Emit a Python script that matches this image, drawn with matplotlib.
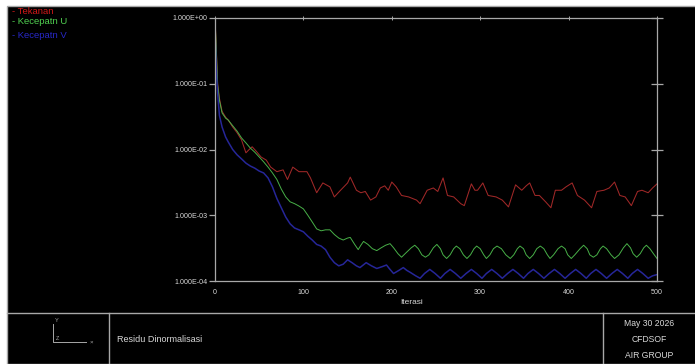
import numpy as np
import matplotlib
matplotlib.use("Agg")
import matplotlib.pyplot as plt
from matplotlib.patches import Rectangle
from matplotlib.lines import Line2D
from matplotlib.ticker import FixedLocator, FixedFormatter

plt.rcParams["font.family"] = ["Liberation Sans", "DejaVu Sans"]

# --- residual histories ---
it_tekanan = [0, 1, 3, 5, 8, 12, 15, 20, 25, 30, 35, 38, 42, 47, 52, 58, 63, 70,
              77, 82, 88, 95, 100, 104, 108, 115, 122, 130, 135, 142, 150, 153,
              160, 165, 170, 176, 182, 187, 192, 196, 200, 205, 211, 219, 228,
              232, 240, 247, 252, 258, 263, 270, 278, 282, 290, 294, 297, 303,
              309, 318, 325, 332, 340, 347, 352, 356, 362, 367, 374, 380, 385,
              392, 397, 404, 410, 418, 426, 432, 440, 446, 452, 458, 464, 471,
              478, 483, 490, 495, 500]
res_tekanan = [1.0, 0.5, 0.1, 0.06, 0.038, 0.031, 0.028, 0.022, 0.018, 0.014,
               0.0089, 0.0098, 0.011, 0.0093, 0.0077, 0.0069, 0.0054, 0.0046,
               0.0049, 0.0035, 0.0054, 0.0046, 0.0046, 0.0046, 0.0037, 0.0022,
               0.0031, 0.0027, 0.0019, 0.0024, 0.0031, 0.0038, 0.0024, 0.0022,
               0.0023, 0.0017, 0.0019, 0.0026, 0.0028, 0.0024, 0.0032, 0.0027,
               0.0020, 0.0019, 0.0017, 0.0015, 0.0024, 0.0026, 0.0023, 0.0037,
               0.0020, 0.0019, 0.0015, 0.0014, 0.0030, 0.0024, 0.0024, 0.0031,
               0.0020, 0.0019, 0.0017, 0.00134, 0.0029, 0.0024, 0.0028, 0.0031,
               0.0020, 0.0020, 0.0016, 0.0013, 0.0024, 0.0024, 0.0027, 0.0031,
               0.0020, 0.0017, 0.0013, 0.0023, 0.0024, 0.0026, 0.0032, 0.0020,
               0.0019, 0.0014, 0.0023, 0.0024, 0.0022, 0.0026, 0.0030]

it_u = [0, 1, 3, 5, 8, 12, 15, 20, 25, 30, 35, 40, 45, 50, 55, 60, 65, 70, 75,
        80, 85, 90, 95, 100, 105, 110, 115, 120, 125, 130, 135, 140, 145, 150,
        153, 158, 162, 165, 168, 173, 178, 183, 188, 193, 198, 202, 207, 211,
        215, 222, 226, 230, 234, 238, 242, 247, 251, 255, 258, 262, 266, 270,
        273, 277, 281, 285, 289, 293, 296, 300, 304, 307, 311, 315, 319, 324,
        329, 334, 338, 342, 345, 349, 352, 356, 360, 364, 368, 372, 376, 379,
        383, 388, 392, 396, 399, 403, 407, 413, 417, 421, 424, 428, 432, 436,
        439, 443, 448, 452, 457, 462, 466, 470, 473, 477, 481, 485, 488, 492,
        496, 500]
res_u = [1.0, 0.47, 0.095, 0.056, 0.036, 0.030, 0.028, 0.023, 0.019, 0.015,
         0.0126, 0.0105, 0.0091, 0.0077, 0.0065, 0.0054, 0.0044, 0.0035, 0.0025,
         0.0019, 0.0016, 0.0015, 0.00138, 0.00125, 0.0010, 7.9e-4, 6.2e-4,
         5.8e-4, 6.0e-4, 6.0e-4, 5.1e-4, 4.5e-4, 4.2e-4, 4.5e-4,
         4.6e-4, 3.6e-4, 3.0e-4, 3.5e-4, 4.0e-4, 3.6e-4, 3.1e-4, 2.9e-4, 3.2e-4,
         3.5e-4, 3.7e-4, 3.2e-4, 2.6e-4, 2.3e-4, 2.6e-4, 3.2e-4, 3.5e-4, 3.1e-4,
         2.5e-4, 2.3e-4, 2.5e-4, 3.2e-4, 3.6e-4, 3.1e-4, 2.5e-4, 2.2e-4, 2.5e-4,
         3.1e-4, 3.4e-4, 3.1e-4, 2.5e-4, 2.2e-4, 2.5e-4, 3.1e-4, 3.4e-4, 3.1e-4,
         2.5e-4, 2.2e-4, 2.5e-4, 3.1e-4, 3.4e-4, 3.1e-4, 2.5e-4, 2.2e-4, 2.5e-4,
         3.1e-4, 3.4e-4, 3.1e-4, 2.5e-4, 2.2e-4, 2.5e-4, 3.1e-4, 3.4e-4, 3.1e-4,
         2.5e-4, 2.2e-4, 2.5e-4, 3.1e-4, 3.4e-4, 3.1e-4, 2.5e-4, 2.2e-4, 2.5e-4,
         3.1e-4, 3.5e-4, 3.1e-4, 2.5e-4, 2.3e-4, 2.5e-4, 3.1e-4, 3.4e-4, 3.1e-4,
         2.5e-4, 2.2e-4, 2.5e-4, 3.2e-4, 3.7e-4, 3.2e-4, 2.6e-4, 2.3e-4, 2.6e-4,
         3.2e-4, 3.5e-4, 3.1e-4, 2.6e-4, 2.2e-4]

it_v = [0, 1, 2, 3, 5, 8, 12, 15, 20, 25, 30, 35, 40, 45, 50, 55, 60, 65, 70,
        75, 80, 85, 90, 95, 100, 105, 110, 115, 120, 125, 130, 135, 140, 145,
        150, 155, 160, 164, 171, 177, 183, 189, 194, 198, 202, 208, 213, 217,
        221, 227, 232, 237, 243, 249, 255, 260, 266, 272, 278, 284, 290, 296,
        302, 307, 313, 319, 325, 331, 337, 343, 349, 354, 360, 366, 372, 378,
        384, 390, 396, 402, 408, 414, 420, 425, 431, 437, 443, 449, 455, 461,
        467, 472, 478, 484, 490, 495, 500]
res_v = [0.6, 0.25, 0.12, 0.07, 0.033, 0.022, 0.0155, 0.013, 0.010, 0.0083,
         0.0072, 0.0062, 0.0056, 0.0052, 0.0047, 0.0044, 0.0037, 0.0027, 0.0018,
         0.0013, 9.4e-4, 7.4e-4, 6.4e-4, 6.0e-4, 5.6e-4, 4.8e-4, 4.2e-4, 3.6e-4,
         3.4e-4, 3.0e-4, 2.3e-4, 1.9e-4, 1.7e-4, 1.8e-4, 2.1e-4, 1.9e-4, 1.7e-4,
         1.6e-4, 1.9e-4, 1.7e-4, 1.55e-4, 1.65e-4, 1.75e-4, 1.5e-4, 1.3e-4,
         1.45e-4, 1.6e-4, 1.45e-4, 1.35e-4, 1.2e-4, 1.1e-4, 1.3e-4, 1.5e-4,
         1.3e-4, 1.1e-4, 1.3e-4, 1.5e-4, 1.3e-4, 1.1e-4, 1.3e-4, 1.5e-4, 1.3e-4,
         1.1e-4, 1.3e-4, 1.5e-4, 1.3e-4, 1.1e-4, 1.3e-4, 1.5e-4, 1.3e-4, 1.1e-4,
         1.3e-4, 1.5e-4, 1.3e-4, 1.1e-4, 1.3e-4, 1.5e-4, 1.3e-4, 1.1e-4, 1.3e-4,
         1.5e-4, 1.3e-4, 1.1e-4, 1.3e-4, 1.5e-4, 1.3e-4, 1.1e-4, 1.3e-4, 1.5e-4,
         1.3e-4, 1.1e-4, 1.3e-4, 1.5e-4, 1.3e-4, 1.1e-4, 1.2e-4, 1.25e-4]

series_names = ["- Tekanan", "- Kecepatn U", "- Kecepatn V"]
ytick_vals = [1.0, 1e-1, 1e-2, 1e-3, 1e-4]
ytick_labels = ["1.000E+00", "1.000E-01", "1.000E-02", "1.000E-03", "1.000E-04"]
xtick_vals = [0, 100, 200, 300, 400, 500]
info_lines = ["May 30 2026", "CFDSOF", "AIR GROUP"]

W, H = 695, 364
GRAY = "#a8a8a8"
TXT = "#d8d8d8"
RED, GREEN, BLUE = "#a02828", "#48b048", "#262698"
LEG_RED, LEG_GREEN, LEG_BLUE = "#d01818", "#50d050", "#2828c8"

fig = plt.figure(figsize=(W / 100, H / 100), dpi=100, facecolor="white")


def fx(px):
    return px / W


def fy(py):
    return 1 - py / H


# black canvas with grey frame, white strip on top/left
fig.patches.append(Rectangle((fx(7), 0), 1, fy(6), transform=fig.transFigure,
                             facecolor="black", edgecolor=GRAY, lw=1.0, zorder=-10))

ax = fig.add_axes([fx(215), fy(281), fx(657) - fx(215), fy(18) - fy(281)])
ax.set_zorder(5)
ax.set_facecolor("black")
ax.plot(it_tekanan, res_tekanan, color=RED, lw=0.75)
ax.plot(it_u, res_u, color=GREEN, lw=0.7)
ax.plot(it_v, res_v, color=BLUE, lw=1.1)
ax.set_yscale("log")
ax.set_ylim(1e-4, 1.0)
ax.set_xlim(0, 500)

for s in ax.spines.values():
    s.set_color(GRAY)
    s.set_linewidth(0.9)

ax.yaxis.set_major_locator(FixedLocator(ytick_vals))
ax.yaxis.set_major_formatter(FixedFormatter(ytick_labels))
ax.yaxis.set_minor_locator(FixedLocator([]))
ax.xaxis.set_major_locator(FixedLocator(xtick_vals))
ax.tick_params(axis="y", which="major", left=True, right=True, direction="out",
               length=4.5, width=0.9, color=GRAY, labelcolor=TXT,
               labelsize=5.1, pad=1)
ax.tick_params(axis="x", which="major", bottom=False, top=True, direction="inout",
               length=3, width=0.7, color=GRAY, labelcolor=TXT,
               labelsize=5.1, pad=4)
# right axis ticks cross the spine
for t in ax.yaxis.get_major_ticks():
    t.tick2line.set_marker("_")
    t.tick2line.set_markersize(9)
    t.tick2line.set_markeredgewidth(0.9)

fig.text(fx(412), fy(302), "Iterasi", color=TXT, fontsize=6,
         ha="center", va="center")

# legend texts top-left
for name, col, py in zip(series_names, [LEG_RED, LEG_GREEN, LEG_BLUE], [11, 22, 35]):
    fig.text(fx(12), fy(py), name, color=col, fontsize=6.8, ha="left", va="center")

# bottom title block
fig.add_artist(Line2D([fx(7), 1], [fy(313), fy(313)], color=GRAY, lw=1.0))
fig.add_artist(Line2D([fx(109), fx(109)], [fy(313), 0], color=GRAY, lw=1.0))
fig.add_artist(Line2D([fx(603), fx(603)], [fy(313), 0], color=GRAY, lw=1.0))

fig.add_artist(Line2D([fx(53), fx(53), fx(86)], [fy(324), fy(342), fy(342)],
                      color=GRAY, lw=0.7))
fig.text(fx(57), fy(321), "Y", color=GRAY, fontsize=4, ha="center", va="center")
fig.text(fx(57), fy(339), "Z", color=GRAY, fontsize=4, ha="center", va="center")
fig.text(fx(91), fy(342), "×", color=GRAY, fontsize=4.5, ha="center", va="center")

fig.text(fx(117), fy(339), "Residu Dinormalisasi", color=TXT, fontsize=6.5,
         ha="left", va="center")
for line, py in zip(info_lines, [324, 340, 355]):
    fig.text(fx(649), fy(py), line, color=TXT, fontsize=6.2, ha="center", va="center")

fig.savefig("out.png", dpi=100, facecolor="white")
